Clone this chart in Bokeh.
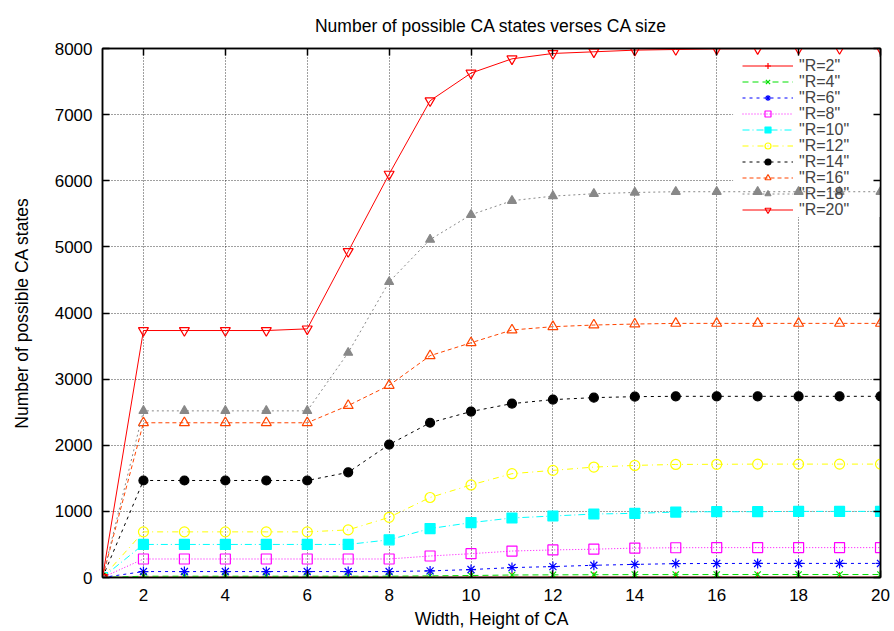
from bokeh.plotting import figure
from bokeh.models import (LinearAxis, FixedTicker, Legend, LegendItem, Range1d,
                          ColumnDataSource, CustomJSTickFormatter, BoxAnnotation)
from bokeh.embed import file_html
from bokeh.resources import INLINE

# ---- data ----
sizes = [1, 2, 3, 4, 5, 6, 7, 8, 9, 10, 11, 12, 13, 14, 15, 16, 17, 18, 19, 20]
r2 = [0, 4, 4, 4, 4, 4, 4, 4, 4, 4, 4, 4, 4, 4, 4, 4, 4, 4, 4, 4]
r4 = [0, 20, 20, 20, 20, 20, 20, 20, 25, 30, 38, 40, 42, 44, 44, 45, 45, 45, 45, 45]
r6 = [0, 90, 90, 90, 90, 90, 90, 90, 100, 120, 150, 165, 185, 198, 210, 212, 213, 213, 213, 213]
r8 = [0, 280, 280, 280, 280, 280, 280, 280, 325, 360, 400, 417, 428, 445, 450, 452, 452, 452, 452, 452]
r10 = [0, 500, 500, 500, 500, 500, 500, 570, 740, 830, 900, 930, 960, 970, 990, 995, 995, 1000, 1000, 1000]
r12 = [0, 690, 690, 690, 690, 690, 720, 910, 1210, 1400, 1570, 1620, 1670, 1695, 1710, 1712, 1715, 1715, 1715, 1715]
r14 = [0, 1467, 1467, 1467, 1467, 1467, 1590, 2010, 2340, 2510, 2630, 2690, 2720, 2735, 2740, 2740, 2740, 2740, 2740, 2740]
r16 = [0, 2340, 2340, 2340, 2340, 2340, 2600, 2905, 3354, 3550, 3743, 3793, 3818, 3833, 3843, 3843, 3843, 3843, 3843, 3843]
r18 = [0, 2520, 2520, 2520, 2520, 2520, 3400, 4470, 5110, 5486, 5698, 5768, 5803, 5823, 5834, 5834, 5834, 5834, 5834, 5834]
r20 = [0, 3735, 3735, 3735, 3735, 3760, 4930, 6100, 7210, 7628, 7844, 7925, 7950, 7975, 7985, 7995, 7998, 8000, 8000, 8000]

series_labels = ['"R=2"', '"R=4"', '"R=6"', '"R=8"', '"R=10"', '"R=12"', '"R=14"', '"R=16"', '"R=18"', '"R=20"']
x_ticks = [2, 4, 6, 8, 10, 12, 14, 16, 18, 20]
y_ticks = [0, 1000, 2000, 3000, 4000, 5000, 6000, 7000, 8000]

title_text = "Number of possible CA states verses CA size"
x_label = "Width, Height of CA"
y_label = "Number of possible CA states"

# ---- styles ----
styles = [
    dict(color="#ff0000", dash="solid", marker="cross", fill=False, size=10),
    dict(color="#00e000", dash="6 4", marker="x", fill=False, size=9),
    dict(color="#0000ff", dash="3 4", marker="asterisk", fill=False, size=10),
    dict(color="#ff00ff", dash="1 2", marker="square", fill=False, size=10),
    dict(color="#00ffff", dash="7 3 1 3", marker="square", fill=True, size=10),
    dict(color="#ffff00", dash="6 4 1 4", marker="circle", fill=False, size=10),
    dict(color="#000000", dash="3 4", marker="circle", fill=True, size=9),
    dict(color="#ff4500", dash="4 3", marker="triangle", fill=False, size=10),
    dict(color="#888888", dash="2 3", marker="triangle", fill=True, size=9),
    dict(color="#ff0000", dash="solid", marker="inverted_triangle", fill=False, size=10),
]

FONT = "Liberation Sans"
TXT = "17.5px"
KEY_TXT = "16px"
TOP, BOTTOM, LEFT, RIGHT = 48, 54, 102, 14
W, H = 894, 631
FRAME_H = H - TOP - BOTTOM
KEY_TOP = 65           # centre of first key entry, px from top of canvas
KEY_STEP = 16          # px between key entries
KEY_X = 640            # key left, px from frame left

p = figure(width=W, height=H, output_backend="svg", toolbar_location=None,
           x_range=Range1d(1, 20), y_range=Range1d(0, 8000),
           min_border_left=LEFT, min_border_right=RIGHT,
           min_border_top=TOP, min_border_bottom=BOTTOM)

p.title.text = title_text
p.title.align = "center"
p.title.text_font = FONT
p.title.text_font_size = TXT
p.title.text_font_style = "normal"
p.title.text_color = "black"
p.title.standoff = 25

for ax, ticks in ((p.xaxis[0], x_ticks), (p.yaxis[0], y_ticks)):
    ax.ticker = FixedTicker(ticks=ticks)
    ax.major_tick_in = 7
    ax.major_tick_out = 0
    ax.minor_tick_line_color = None
    ax.axis_line_color = "black"
    ax.axis_line_width = 1.5
    ax.major_tick_line_color = "black"
    ax.major_tick_line_width = 1.5
    ax.major_label_text_font = FONT
    ax.major_label_text_font_size = "17px"
    ax.major_label_text_color = "black"
    ax.axis_label_text_font = FONT
    ax.axis_label_text_font_size = TXT
    ax.axis_label_text_font_style = "normal"
    ax.axis_label_text_color = "black"

p.xaxis[0].axis_label = x_label
p.xaxis[0].major_label_standoff = 11
p.xaxis[0].axis_label_standoff = 5
p.yaxis[0].axis_label = y_label
p.yaxis[0].major_label_standoff = 10
p.yaxis[0].axis_label_standoff = 20

# mirror axes (ticks only)
for loc, ticks in (("above", x_ticks), ("right", y_ticks)):
    ax = LinearAxis(ticker=FixedTicker(ticks=ticks), major_tick_in=7, major_tick_out=0,
                    minor_tick_line_color=None,
                    formatter=CustomJSTickFormatter(code="return ''"),
                    axis_line_color="black", axis_line_width=1.5,
                    major_tick_line_color="black", major_tick_line_width=1.5,
                    major_label_standoff=0)
    p.add_layout(ax, loc)

p.outline_line_color = "black"
p.outline_line_width = 1.5

for g in (p.xgrid[0], p.ygrid[0]):
    g.grid_line_color = "black"
    g.grid_line_dash = "1 2"
    g.grid_line_alpha = 0.75
    g.grid_line_width = 1
p.xgrid[0].ticker = FixedTicker(ticks=x_ticks)
p.ygrid[0].ticker = FixedTicker(ticks=y_ticks)

# blank key area (hides grid behind the key, like gnuplot)
key_bg = BoxAnnotation(left=16.4, right=20, bottom=5450, top=7870,
                       fill_color="white", fill_alpha=1.0, line_color=None,
                       level="underlay")
p.add_layout(key_bg)

all_series = [r2, r4, r6, r8, r10, r12, r14, r16, r18, r20]
for i, (lab, vals, st) in enumerate(zip(series_labels, all_series, styles)):
    src = ColumnDataSource(dict(x=sizes, y=vals))
    ln = p.line("x", "y", source=src, line_color=st["color"], line_width=1,
                line_dash=st["dash"])
    sc = p.scatter("x", "y", source=src, marker=st["marker"], size=st["size"],
                   line_color=st["color"], line_width=1.2,
                   fill_color=st["color"] if st["fill"] else None)
    centre = KEY_TOP + i * KEY_STEP            # px from canvas top
    loc_y = (TOP + FRAME_H) - centre - 9.5     # legend bottom, px above frame bottom
    lg = Legend(items=[LegendItem(label=lab, renderers=[ln, sc])],
                location=(KEY_X, loc_y),
                label_text_font=FONT, label_text_font_size=KEY_TXT,
                label_standoff=6, label_height=15, glyph_height=15, glyph_width=51,
                spacing=0, padding=0, margin=0, border_line_color=None,
                background_fill_alpha=0.0)
    p.add_layout(lg, "center")

open("out.html", "w").write(file_html(p, INLINE))
